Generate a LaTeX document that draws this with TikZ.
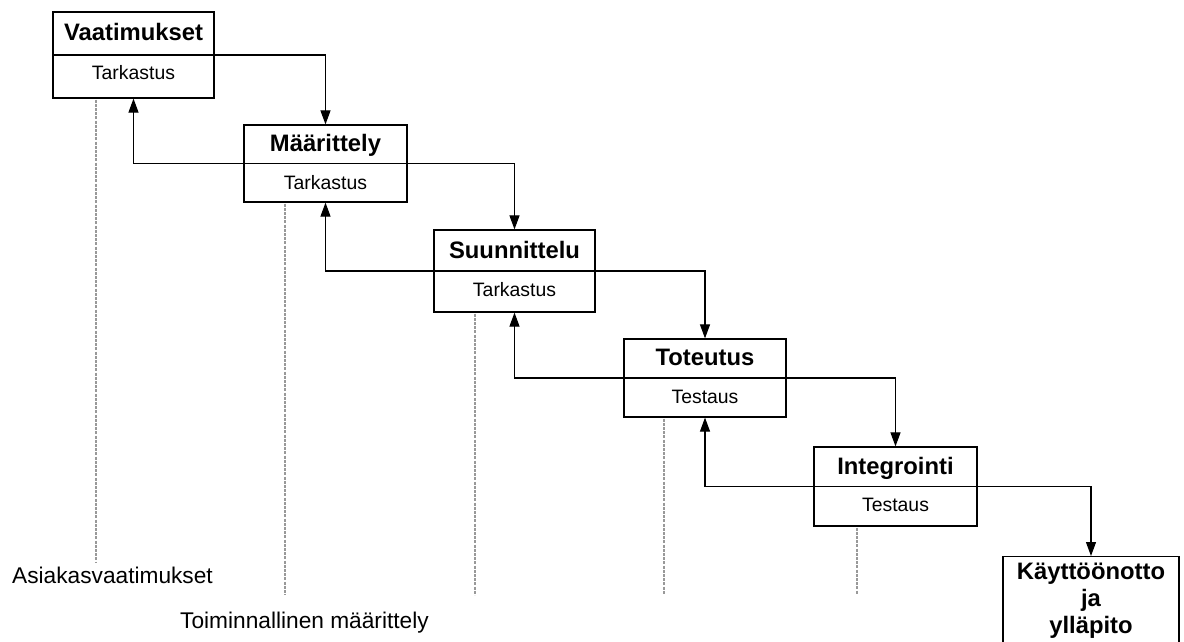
\documentclass[tikz,border=0pt]{standalone}
\usepackage{fontspec}
\setmainfont{Liberation Sans}
\usetikzlibrary{arrows.meta}

\begin{document}
\begin{tikzpicture}[x=1pt,y=-1pt,
  stagebox/.style={draw, line width=1.2pt, rectangle, inner sep=0pt},
  phasetitle/.style={font={\bfseries\fontsize{23.8}{26}\selectfont}, inner sep=0pt, anchor=base},
  phasecheck/.style={font={\fontsize{19.4}{22}\selectfont}, inner sep=0pt, anchor=base},
  milestone/.style={font={\fontsize{22.7}{27}\selectfont}, inner sep=0pt, anchor=base west},
  flow/.style={draw, line width=1.1pt, -{Triangle[length=14pt,width=10pt]}},
  guide/.style={draw, line width=1.3pt, color=black!40, dash pattern=on 3pt off 1.2pt}]

\useasboundingbox (0,0) rectangle (1184,642);

% phase boxes; the divider runs through each box centre
\node[stagebox, minimum width=161pt, minimum height=86pt] (vaat)  at (133.5,55)  {};
\node[stagebox, minimum width=163pt, minimum height=77pt] (maar)  at (325.5,163.5) {};
\node[stagebox, minimum width=161pt, minimum height=82pt] (suun)  at (514.5,271) {};
\node[stagebox, minimum width=162pt, minimum height=78pt] (tote)  at (705,378)   {};
\node[stagebox, minimum width=163pt, minimum height=79pt] (integ) at (895.5,486.5) {};
\node[stagebox, anchor=north, minimum width=176pt, minimum height=110pt] (kaytt) at (1091,556) {};

\foreach \b in {vaat,maar,suun,tote,integ}
  \draw[line width=1.2pt] (\b.west) -- (\b.east);

% titles and review steps
\node[phasetitle] (vaat-t)  at ([yshift=14pt]vaat.center)  {Vaatimukset};
\node[phasecheck] (vaat-c)  at ([yshift=-24.5pt]vaat.center) {Tarkastus};
\node[phasetitle] (maar-t)  at ([yshift=12pt]maar.center)  {Määrittely};
\node[phasecheck] (maar-c)  at ([yshift=-26pt]maar.center) {Tarkastus};
\node[phasetitle] (suun-t)  at ([yshift=13pt]suun.center)  {Suunnittelu};
\node[phasecheck] (suun-c)  at ([yshift=-25.5pt]suun.center) {Tarkastus};
\node[phasetitle] (tote-t)  at ([yshift=13pt]tote.center)  {Toteutus};
\node[phasecheck] (tote-c)  at ([yshift=-25pt]tote.center) {Testaus};
\node[phasetitle] (integ-t) at ([yshift=12pt]integ.center) {Integrointi};
\node[phasecheck] (integ-c) at ([yshift=-25pt]integ.center) {Testaus};
\node[font={\bfseries\fontsize{23.8}{27}\selectfont}, align=center, inner sep=0pt, anchor=north]
  (kaytt-t) at (1091,563) {Käyttöönotto\\ja\\ylläpito};

% forward flow between phases
\draw[flow] (vaat.east)  -| (maar.north);
\draw[flow] (maar.east)  -| (suun.north);
\draw[flow] (suun.east)  -| (tote.north);
\draw[flow] (tote.east)  -| (integ.north);
\draw[flow] (integ.east) -| (kaytt.north);

% feedback to the previous phase
\draw[flow] (maar.west)  -| (vaat.south);
\draw[flow] (suun.west)  -| (maar.south);
\draw[flow] (tote.west)  -| (suun.south);
\draw[flow] (integ.west) -| (tote.south);

% document guide lines
\coordinate (vaat-g)  at (96,562);
\coordinate (maar-g)  at (285,595);
\coordinate (suun-g)  at (475,595);
\coordinate (tote-g)  at (664,594);
\coordinate (integ-g) at (857,594);
\foreach \b in {vaat,maar,suun,tote,integ}
  \draw[guide] ([yshift=-1pt]\b.south -| \b-g) -- (\b-g);

% milestone documents
\node[milestone] (asiakas) at (12,583)  {Asiakasvaatimukset};
\node[milestone] (toim)    at (180,628) {Toiminnallinen määrittely};

\end{tikzpicture}
\end{document}
